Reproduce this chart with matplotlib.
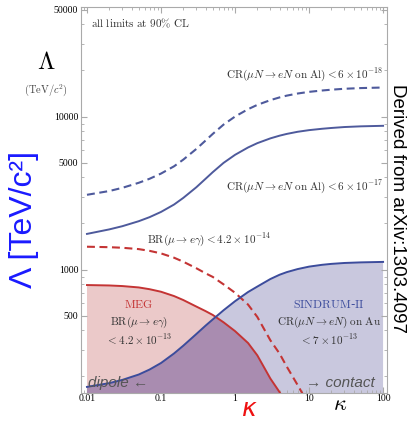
import matplotlib
matplotlib.use('Agg')
import matplotlib.pyplot as plt

plt.rcParams['mathtext.fontset'] = 'cm'

# kappa grid and Lambda (TeV/c^2) values
kappa = [0.01, 0.02, 0.03, 0.05, 0.07, 0.1, 0.15, 0.2, 0.3, 0.4, 0.5, 0.7, 1,
         1.5, 2, 3, 4, 5, 7, 10, 15, 20, 30, 50, 100]
al_17 = [1710, 1830, 1920, 2070, 2200, 2380, 2660, 2940, 3450, 3920, 4330, 4980, 5620,
         6280, 6700, 7200, 7500, 7700, 7950, 8150, 8320, 8420, 8540, 8630, 8700]
al_18 = [3080, 3260, 3420, 3690, 3920, 4240, 4730, 5230, 6140, 6970, 7700, 8860, 10000,
         11170, 11920, 12800, 13340, 13700, 14140, 14500, 14800, 14980, 15190, 15350, 15480]
sindrum = [171, 181, 190, 206, 222, 245, 283, 318, 379, 430, 472, 542, 621,
           713, 774, 867, 925, 962, 1007, 1045, 1074, 1089, 1104, 1114, 1122]

kappa_meg = [0.01, 0.02, 0.03, 0.05, 0.07, 0.1, 0.15, 0.2, 0.3, 0.4, 0.5, 0.7, 1,
             1.5, 2, 3, 4, 5, 7]
meg_13 = [792, 787, 780, 764, 744, 716, 671, 632, 573, 535, 505, 452, 396,
          331, 275, 194, 158, 130, 99]
kappa_meg14 = [0.01, 0.02, 0.03, 0.05, 0.07, 0.1, 0.15, 0.2, 0.3, 0.4, 0.5, 0.7, 1,
               1.5, 2, 3, 4, 5, 7, 9]
meg_14 = [1410, 1400, 1388, 1360, 1325, 1275, 1195, 1125, 1020, 945, 895, 800, 705,
          590, 490, 345, 282, 232, 176, 142]

xticks = [0.01, 0.1, 1, 10, 100]
xticklabels = ['0.01', '0.1', '1', '10', '100']
yticks = [500, 1000, 5000, 10000, 50000]
yticklabels = ['500', '1000', '5000', '10000', '50000']

blue = '#4e5a9c'
blue_dark = '#3c4c9c'
red = '#c43434'
pink = '#ebc9c9'
lavender = '#c9c8de'
purple = '#a98cb0'

fig = plt.figure(figsize=(4.1, 4.22), dpi=100)
ax = fig.add_axes([81 / 410, 29 / 422, 306 / 410, 386 / 422])
ax.set_xscale('log')
ax.set_yscale('log')
ax.set_xlim(0.0083, 113)
ax.set_ylim(156, 52000)

ybot = 1

# filled exclusion regions, overlap drawn as the MEG region clipped to SINDRUM
ax.fill_between(kappa_meg, ybot, meg_13, color=pink, lw=0, zorder=1)
blue_fill = ax.fill_between(kappa, ybot, sindrum, color=lavender, lw=0, zorder=1)
overlap = ax.fill_between(kappa_meg, ybot, meg_13, color=purple, lw=0, zorder=2)
overlap.set_clip_path(blue_fill.get_paths()[0], ax.transData)

# curves
ax.plot(kappa, al_18, color=blue, lw=1.5, dashes=(3.8, 2.2), zorder=3)
ax.plot(kappa, al_17, color=blue, lw=1.4, zorder=3)
ax.plot(kappa_meg14, meg_14, color=red, lw=1.5, dashes=(3.8, 2.2), zorder=3)
ax.plot(kappa_meg, meg_13, color=red, lw=1.4, zorder=3)
ax.plot(kappa, sindrum, color=blue_dark, lw=1.4, zorder=3)

# frame and ticks
for side in ax.spines.values():
    side.set_color('#aaaaaa')
    side.set_linewidth(0.8)
ax.tick_params(which='both', direction='in', top=True, right=True,
               color='#aaaaaa', labelsize=7)
ax.tick_params(which='major', length=4)
ax.tick_params(which='minor', length=2)
ax.set_xticks(xticks)
ax.set_xticklabels(xticklabels, family='Liberation Serif')
ax.set_yticks(yticks)
ax.set_yticklabels(yticklabels, family='Liberation Serif')
ax.tick_params(axis='x', pad=1)
ax.tick_params(axis='y', pad=2)

# annotations inside the plot
tk = dict(fontsize=8, color='#333333')
ax.text(0.0113, 40400, r'$\mathrm{all\ limits\ at\ 90\%\ CL}$', ha='left', va='center', **tk)
ax.text(100, 18750, r'$\mathrm{CR}(\mu N \to eN\ \mathrm{on\ Al}) < 6\times10^{-18}$',
        ha='right', va='center', **tk)
ax.text(100, 3470, r'$\mathrm{CR}(\mu N \to eN\ \mathrm{on\ Al}) < 6\times10^{-17}$',
        ha='right', va='center', **tk)
ax.text(0.065, 1563, r'$\mathrm{BR}(\mu \to e\gamma) < 4.2\times10^{-14}$',
        ha='left', va='center', **tk)

ax.text(0.0505, 588, r'$\mathrm{MEG}$', ha='center', va='center', fontsize=8.5, color=red)
ax.text(0.0505, 449, r'$\mathrm{BR}(\mu \to e\gamma)$', ha='center', va='center', **tk)
ax.text(0.0505, 348, r'$< 4.2\times10^{-13}$', ha='center', va='center', **tk)

ax.text(18.6, 588, r'$\mathrm{SINDRUM}$-$\mathrm{II}$', ha='center', va='center',
        fontsize=8.5, color=blue_dark)
ax.text(18.6, 449, r'$\mathrm{CR}(\mu N \to eN)\ \mathrm{on\ Au}$', ha='center', va='center', **tk)
ax.text(18.6, 348, r'$< 7\times10^{-13}$', ha='center', va='center', **tk)

ax.text(0.0103, 182, 'dipole \u2190', ha='left', va='center', fontsize=11,
        style='italic', family='Liberation Sans', color='#555555', zorder=4)
ax.text(78, 182, '\u2192 contact', ha='right', va='center', fontsize=11,
        style='italic', family='Liberation Sans', color='#555555', zorder=4)

# labels outside the axes
fig.text(46 / 410, 1 - 62 / 422, r'$\Lambda$', ha='center', va='center', fontsize=18)
fig.text(46 / 410, 1 - 90 / 422, r'$(\mathrm{TeV}/c^2)$', ha='center', va='center',
         fontsize=7.5, color='#444444')
fig.text(24 / 410, 1 - 219 / 422, '\u039b [TeV/c\u00b2]', rotation=90, ha='center',
         va='center', fontsize=23, color='#1a1aff', family='Liberation Sans')
fig.text(398 / 410, 1 - 208 / 422, 'Derived from arXiv:1303.4097', rotation=270,
         ha='center', va='center', fontsize=13.5, family='Liberation Sans')
fig.text(249 / 410, 1 - 421.5 / 422, r'$\kappa$', ha='center', va='bottom', fontsize=18,
         color='#ee1111', math_fontfamily='dejavusans')
fig.text(340 / 410, 1 - 404 / 422, r'$\kappa$', ha='center', va='center', fontsize=16)

fig.savefig('out.png', dpi=100)
